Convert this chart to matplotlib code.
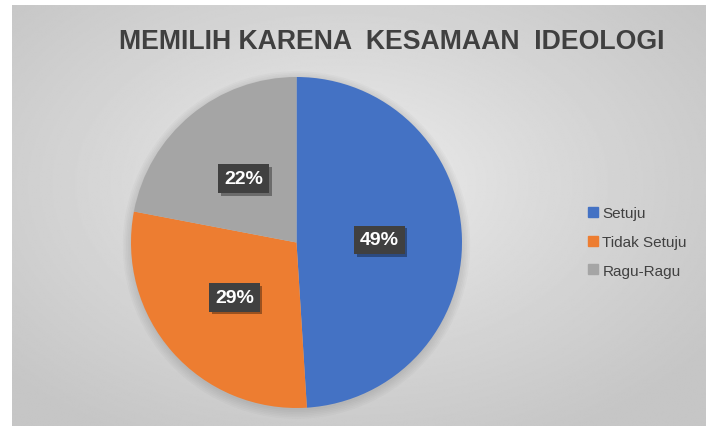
import matplotlib
matplotlib.use("Agg")
import matplotlib.pyplot as plt
import numpy as np
from matplotlib.lines import Line2D
import matplotlib.patheffects as pe

plt.rcParams["font.family"] = ["Liberation Sans", "DejaVu Sans"]

# data
TITLE = "MEMILIH KARENA  KESAMAAN  IDEOLOGI"
labels = ["Setuju", "Tidak Setuju", "Ragu-Ragu"]
values = [49, 29, 22]
colors = ["#4472C4", "#ED7D31", "#A5A5A5"]

W, H = 706, 427
fig = plt.figure(figsize=(W / 100, H / 100), dpi=100)
fig.patch.set_facecolor("white")

# radial gradient background (chart area starts a few px in from left/top)
bg = fig.add_axes([12 / W, 0, 1 - 12 / W, 1 - 6 / H])
bg.set_axis_off()
yy, xx = np.mgrid[-1:1:300j, -1:1:500j]
d = np.sqrt((xx + 0.05) ** 2 + ((yy + 0.15) * 0.95) ** 2)
d = np.clip(d / 1.3, 0, 1)
top, edge = 0.95, 0.775
img = top - (top - edge) * d ** 0.75
bg.imshow(img, cmap="gray", vmin=0, vmax=1, aspect="auto",
          extent=[0, 1, 0, 1], interpolation="bilinear")

# pie
cx, cy, r = 296.5, 243.5, 165.5
ax = fig.add_axes([(cx - r) / W, (H - cy - r) / H, 2 * r / W, 2 * r / H])

# soft shadow behind the pie
for k in range(6):
    ax.add_patch(plt.Circle((0.0, -0.015), 1.0 + 0.01 * k, color="black",
                            alpha=0.018, lw=0, zorder=0, clip_on=False))

wedges, _ = ax.pie(values, colors=colors, startangle=90, counterclock=False,
                   wedgeprops=dict(linewidth=0))
for w in wedges:
    w.set_zorder(2)
ax.set_xlim(-1, 1)
ax.set_ylim(-1, 1)
ax.set_aspect("equal")
ax.set_axis_off()

# percentage labels in dark boxes with shadow
total = sum(values)
start = 90.0
for v in values:
    mid = np.deg2rad(start - v / total * 360 / 2)
    start -= v / total * 360
    x, y = 0.5 * np.cos(mid), 0.5 * np.sin(mid)
    t = ax.text(x, y, f"{v / total:.0%}", ha="center", va="center",
                fontsize=14, fontweight="bold", color="white", zorder=4,
                bbox=dict(boxstyle="square,pad=0.3", fc="#404040", ec="none"))
    t.get_bbox_patch().set_path_effects(
        [pe.SimplePatchShadow(offset=(2, -2), shadow_rgbFace="black", alpha=0.35),
         pe.Normal()])

# title
fig.text(391.5 / W, 1 - 42 / H, TITLE, ha="center", va="center",
         fontsize=19.2, fontweight="bold", color="#404040")

# legend
handles = [Line2D([0], [0], marker="s", linestyle="none", markersize=7,
                  markerfacecolor=c, markeredgecolor=c) for c in colors]
fig.legend(handles, labels, loc="center left",
           bbox_to_anchor=(581 / W, 1 - 243 / H), frameon=False,
           fontsize=11, handlelength=0.6, handletextpad=0.3,
           labelspacing=0.95, labelcolor="#404040", borderpad=0)

fig.savefig("out.png", dpi=100, facecolor="white")
